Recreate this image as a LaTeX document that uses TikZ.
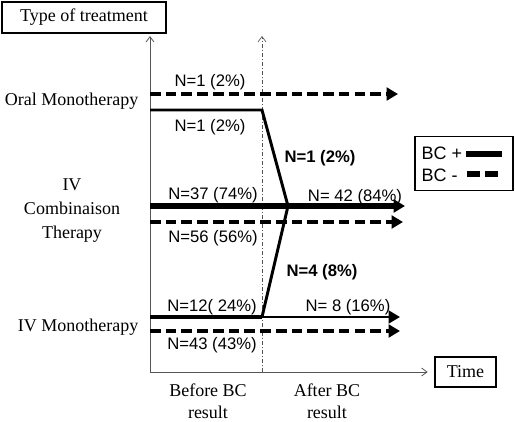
\documentclass[tikz,border=0pt]{standalone}
\usepackage{fontspec}
\setmainfont{Liberation Serif}
\newfontfamily\arialfont{Liberation Sans}
\usetikzlibrary{arrows.meta,positioning}
\definecolor{ink}{RGB}{0,0,0}
\definecolor{axisgray}{RGB}{85,85,85}
\tikzset{
  >={Triangle[length=8.5pt,width=9.5pt]},
  titlebox/.style={draw=ink,line width=1.1pt,inner sep=0pt,font=\fontsize{13.5}{16}\selectfont},
  grouplabel/.style={font=\fontsize{13.5}{16.5}\selectfont,align=center,text=ink,inner sep=1pt},
  nlabel/.style={font=\arialfont\fontsize{12.5}{14}\selectfont,text=ink,inner sep=1pt},
  switchlabel/.style={font=\arialfont\bfseries\fontsize{12.5}{14}\selectfont,text=ink,inner sep=1pt},
  pos line/.style={->,draw=ink,line width=#1},
  pos line/.default=2.2pt,
  neg line/.style={->,draw=ink,line width=3pt,dash pattern=on 8pt off 3.8pt},
  bend line/.style={draw=ink,line width=#1,line join=miter},
  bend line/.default=2.2pt,
  axisline/.style={draw=axisgray,line width=0.6pt,-{Straight Barb[length=4pt,width=6pt]}},
  cutline/.style={axisline,line width=0.5pt,dash pattern=on 3pt off 1.5pt on 0.75pt off 1.5pt},
}
\begin{document}
\begin{tikzpicture}[x=0.75pt,y=-0.75pt]
  \useasboundingbox (0,0) rectangle (515,422);
  \node[titlebox,minimum width=123pt,minimum height=23.25pt] (treat) at (84,17.5) {Type of treatment};
  \node[titlebox,minimum width=45.75pt,minimum height=22.5pt] (time) at (465.5,372) {Time};
  \coordinate (O) at (150,372);
  \coordinate (ytop) at (150,36);
  \coordinate (bc) at (262,372);
  \coordinate (bctop) at (262,36);
  \draw[axisline] (O) -- (ytop);
  \draw[axisline,shorten >=5pt] (O) -- (time.west);
  \draw[cutline] (bc) -- (bctop);

  \node[grouplabel,anchor=east] (oral) at (140,101) {Oral Monotherapy};
  \node[grouplabel,font=\fontsize{13.5}{18}\selectfont] (combo) at (72,211) {IV\\Combinaison\\Therapy};
  \node[grouplabel,anchor=east] (mono) at (140,327) {IV Monotherapy};
  \node[grouplabel] (before) at (208,401) {Before BC\\result};
  \node[grouplabel] (after) at (327,401) {After BC\\result};

  \coordinate (join) at (288,206);
  \coordinate (o0) at (150,94);   \coordinate (o1) at (398,94);
  \coordinate (p0) at (150,110);  \coordinate (p1) at (262,110);
  \coordinate (c0) at (150,206);  \coordinate (c1) at (405,206);
  \coordinate (d0) at (150,222);  \coordinate (d1) at (403,222);
  \coordinate (m0) at (150,317);  \coordinate (m1) at (262,317);  \coordinate (m2) at (400,317);
  \coordinate (n0) at (150,331);  \coordinate (n1) at (400,331);
  \draw[neg line] (o0) -- (o1);
  \draw[bend line] (p0) -- (p1) -- (join);
  \draw[pos line=5pt] (c0) -- (c1);
  \draw[neg line] (d0) -- (d1);
  \draw[bend line=3.2pt] (m0) -- (m1);
  \draw[bend line] (m1) -- (join);
  \draw[pos line=2pt] (m1) -- (m2);
  \draw[neg line] (n0) -- (n1);

  \node[nlabel] (oralneg) at (210,82) {N=1 (2\%)};
  \node[nlabel] (oralpos) at (210,127) {N=1 (2\%)};
  \node[switchlabel] (oralswitch) at (320,158) {N=1 (2\%)};
  \node[nlabel] (combopos) at (213,195) {N=37 (74\%)};
  \node[nlabel] (comboafter) at (355,197) {N= 42 (84\%)};
  \node[nlabel] (comboneg) at (213,238) {N=56 (56\%)};
  \node[switchlabel] (monoswitch) at (322,272) {N=4 (8\%)};
  \node[nlabel] (monopos) at (212,307) {N=12( 24\%)};
  \node[nlabel] (monoafter) at (348,307) {N= 8 (16\%)};
  \node[nlabel] (mononeg) at (212,345) {N=43 (43\%)};

  \node[draw=ink,line width=0.8pt,minimum width=73.5pt,minimum height=40pt] (legend) at (464,163.5) {};
  \node[nlabel,font=\arialfont\fontsize{13.5}{15}\selectfont,anchor=west] (bcpos) at (420,153) {BC +};
  \node[nlabel,font=\arialfont\fontsize{13.5}{15}\selectfont,anchor=west] (bcneg) at (420,175) {BC -};
  \coordinate (s0) at (466,154);  \coordinate (s1) at (502,154);
  \coordinate (t0) at (467,174);  \coordinate (t1) at (502,174);
  \draw[ink,line width=4.5pt] (s0) -- (s1);
  \draw[ink,line width=4.5pt,dash pattern=on 10pt off 3.5pt] (t0) -- (t1);
\end{tikzpicture}
\end{document}
